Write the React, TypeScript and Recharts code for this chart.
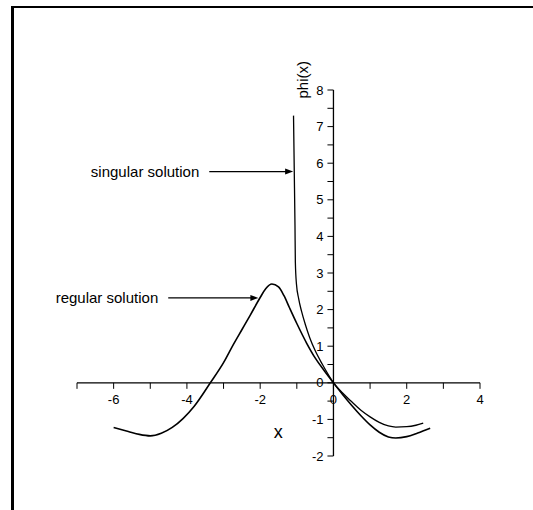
import React from 'react';
import { LineChart, Line, XAxis, YAxis, ReferenceLine, ReferenceDot } from 'recharts';

// ─── Data ─────────────────────────────────────────────────────────────────────

const regularX = [-6, -5.6, -5.3, -5.0, -4.7, -4.4, -4.1, -3.8, -3.36, -3.0, -2.73, -2.5, -2.27, -2.0, -1.85, -1.68, -1.5, -1.35, -1.2, -1.0, -0.73, -0.5, -0.25, 0, 0.25, 0.5, 0.75, 1.0, 1.25, 1.5, 1.7, 2.0, 2.3, 2.64];
const regularY = [-1.22, -1.33, -1.41, -1.45, -1.38, -1.22, -0.97, -0.64, 0, 0.55, 1.05, 1.45, 1.85, 2.33, 2.57, 2.7, 2.62, 2.38, 2.05, 1.62, 1.08, 0.68, 0.33, 0, -0.32, -0.62, -0.9, -1.15, -1.35, -1.48, -1.51, -1.47, -1.37, -1.24];

const singularX = [-1.09, -1.07, -1.05, -1.04, -1.01, -0.95, -0.87, -0.77, -0.65, -0.5, -0.3, -0.15, 0, 0.25, 0.5, 0.75, 1.0, 1.25, 1.5, 1.7, 2.0, 2.25, 2.45];
const singularY = [7.3, 5.8, 4.3, 3.3, 2.7, 2.3, 1.95, 1.6, 1.24, 0.88, 0.5, 0.24, 0, -0.28, -0.52, -0.75, -0.93, -1.08, -1.18, -1.21, -1.2, -1.16, -1.1];

const xTicks = [-7, -6, -5, -4, -3, -2, -1, 0, 1, 2, 3, 4];
const xLabels = [-6, -4, -2, 0, 2, 4];
const yTicks = [-2, -1.5, -1, -0.5, 0, 0.5, 1, 1.5, 2, 2.5, 3, 3.5, 4, 4.5, 5, 5.5, 6, 6.5, 7, 7.5, 8];
const yLabels = [-2, -1, 0, 1, 2, 3, 4, 5, 6, 7, 8];

const regular = regularX.map((x, i) => ({ x, y: regularY[i] }));
const singular = singularX.map((x, i) => ({ x, y: singularY[i] }));

// tick length in data units (~6px)
const TICK_DX = 0.164;
const TICK_DY = 0.165;

const FONT = '"Liberation Sans", Arial, sans-serif';

// ─── Arrow shape for annotation lines ─────────────────────────────────────────

function Arrow(props: any) {
  const { x1, y1, x2, y2 } = props;
  return (
    <g>
      <line x1={x1} y1={y1} x2={x2 - 6} y2={y2} stroke="#000" strokeWidth={1.2} />
      <polygon points={`${x2},${y2} ${x2 - 8},${y2 - 3} ${x2 - 8},${y2 + 3}`} fill="#000" />
    </g>
  );
}

// ─── Component ────────────────────────────────────────────────────────────────

export default function App() {
  return (
    <div style={{ position: 'absolute', left: 0, top: 0, width: 533, height: 510, background: '#fff', overflow: 'hidden' }}>
      <div
        style={{
          position: 'absolute',
          left: 11,
          top: 6,
          right: -10,
          bottom: -10,
          borderLeft: '3px solid #000',
          borderTop: '2px solid #000',
        }}
      />
      <div style={{ position: 'absolute', left: 0, top: 0 }}>
        <LineChart width={533} height={510} margin={{ top: 90, right: 53, bottom: 54, left: 77 }}>
          <XAxis type="number" dataKey="x" domain={[-7, 4]} hide allowDataOverflow />
          <YAxis type="number" dataKey="y" domain={[-2, 8]} hide allowDataOverflow />

          <ReferenceLine y={0} stroke="#000" strokeWidth={1.3} />
          <ReferenceLine x={0} stroke="#000" strokeWidth={1.3} />

          {xTicks.map((t) => (
            <ReferenceLine
              key={`xt${t}`}
              segment={[{ x: t, y: 0 }, { x: t, y: -TICK_DY }]}
              stroke="#000"
              strokeWidth={1}
              label={
                xLabels.includes(t)
                  ? { value: String(t), position: 'bottom', offset: 6, fill: '#000', fontSize: 13, fontFamily: FONT }
                  : undefined
              }
            />
          ))}
          {yTicks.map((t) => (
            <ReferenceLine
              key={`yt${t}`}
              segment={[{ x: -TICK_DX, y: t }, { x: 0, y: t }]}
              stroke="#000"
              strokeWidth={1}
              label={
                yLabels.includes(t)
                  ? { value: String(t), position: 'left', offset: 4, fill: '#000', fontSize: 13, fontFamily: FONT }
                  : undefined
              }
            />
          ))}

          <Line data={regular} dataKey="y" type="monotone" stroke="#000" strokeWidth={1.6} dot={false} isAnimationActive={false} />
          <Line data={singular} dataKey="y" type="monotone" stroke="#000" strokeWidth={1.3} dot={false} isAnimationActive={false} />

          <ReferenceLine
            segment={[{ x: -3.39, y: 5.77 }, { x: -1.1, y: 5.77 }]}
            shape={Arrow}
            label={{ value: 'singular solution', position: 'left', offset: 10, fill: '#000', fontSize: 15, fontFamily: FONT }}
          />
          <ReferenceLine
            segment={[{ x: -4.51, y: 2.32 }, { x: -2.05, y: 2.32 }]}
            shape={Arrow}
            label={{ value: 'regular solution', position: 'left', offset: 10, fill: '#000', fontSize: 15, fontFamily: FONT }}
          />

          <ReferenceDot
            x={-1.51}
            y={-1.34}
            r={0}
            fill="none"
            stroke="none"
            label={{ value: 'x', position: 'center', fill: '#000', fontSize: 18, fontFamily: FONT }}
          />
          <ReferenceDot
            x={-0.85}
            y={8.28}
            r={0}
            fill="none"
            stroke="none"
            ifOverflow="visible"
            label={{ value: 'phi(x)', position: 'center', angle: -90, fill: '#000', fontSize: 15, fontFamily: FONT }}
          />
        </LineChart>
      </div>
    </div>
  );
}
